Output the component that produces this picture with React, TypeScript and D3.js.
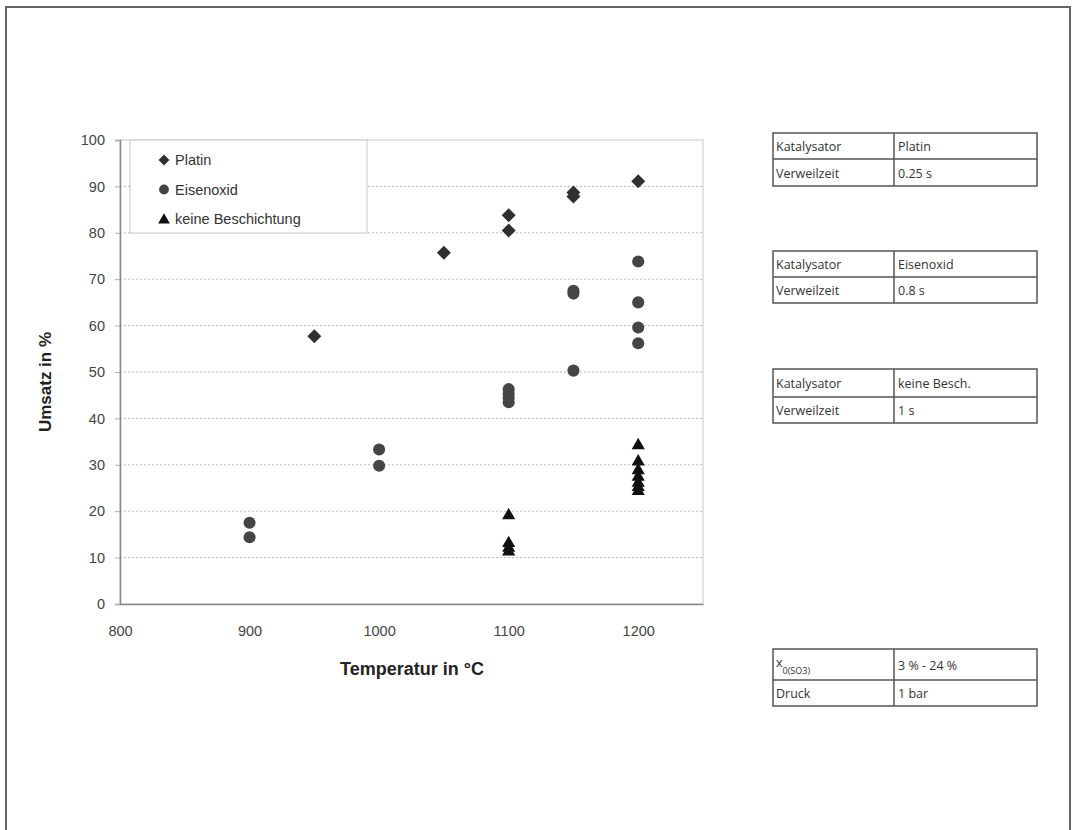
import React, { useRef, useEffect } from 'react';
import * as d3 from 'd3';

// Temperatur (°C) / Umsatz (%) pairs per series
const platinT = [950, 1050, 1100, 1100, 1150, 1150, 1200];
const platinU = [57.7, 75.7, 83.8, 80.5, 88.7, 87.8, 91.1];

const eisenT = [900, 900, 1000, 1000, 1100, 1100, 1100, 1100, 1150, 1150, 1150, 1200, 1200, 1200, 1200];
const eisenU = [17.5, 14.4, 33.3, 29.8, 46.3, 45.3, 44.4, 43.5, 67.5, 66.9, 50.3, 73.8, 65.0, 59.6, 56.2];

const keineT = [1100, 1100, 1100, 1100, 1200, 1200, 1200, 1200, 1200, 1200, 1200];
const keineU = [19.3, 13.3, 12.3, 11.5, 34.4, 30.9, 29.0, 27.6, 26.3, 25.4, 24.5];

const xTicks = [800, 900, 1000, 1100, 1200];
const yTicks = [0, 10, 20, 30, 40, 50, 60, 70, 80, 90, 100];

const legendLabels = ['Platin', 'Eisenoxid', 'keine Beschichtung'];

const tableRows = [
  [['Katalysator', 'Platin'], ['Verweilzeit', '0.25 s']],
  [['Katalysator', 'Eisenoxid'], ['Verweilzeit', '0.8 s']],
  [['Katalysator', 'keine Besch.'], ['Verweilzeit', '1 s']],
  [['x', '3 % - 24 %'], ['Druck', '1 bar']],
];

export default function App() {
  const svgRef = useRef<SVGSVGElement>(null);

  useEffect(() => {
    const svg = d3.select(svgRef.current);
    svg.selectAll('*').remove();

    // outer frame
    svg.append('rect')
      .attr('x', 6).attr('y', 7).attr('width', 1064).attr('height', 840)
      .attr('fill', 'none').attr('stroke', '#666').attr('stroke-width', 2);

    const left = 120, right = 703, top = 140, bottom = 604;
    const x = d3.scaleLinear().domain([800, 1250]).range([left, right]);
    const y = d3.scaleLinear().domain([0, 100]).range([bottom, top]);

    // plot box
    svg.append('rect')
      .attr('x', left).attr('y', top).attr('width', right - left).attr('height', bottom - top)
      .attr('fill', 'white').attr('stroke', '#c8c8c8');

    // gridlines
    svg.append('g')
      .selectAll('line')
      .data(yTicks.filter(d => d > 0 && d < 100))
      .enter()
      .append('line')
      .attr('x1', left).attr('x2', right)
      .attr('y1', d => y(d)).attr('y2', d => y(d))
      .attr('stroke', '#b8b8b8')
      .attr('stroke-dasharray', '2,2');

    // axes
    const yAxis = svg.append('g')
      .attr('transform', `translate(${left},0)`)
      .call(d3.axisLeft(y).tickValues(yTicks).tickSize(5).tickPadding(10));
    const xAxis = svg.append('g')
      .attr('transform', `translate(0,${bottom})`)
      .call(d3.axisBottom(x).tickValues(xTicks).tickFormat(d3.format('d')).tickSize(0).tickPadding(22));
    [yAxis, xAxis].forEach(g => {
      g.select('.domain').attr('stroke', '#888').attr('stroke-width', 1.5);
      g.selectAll('.tick line').attr('stroke', '#aaa');
      g.selectAll('text')
        .attr('font-family', 'Arial, Liberation Sans, sans-serif')
        .attr('font-size', 14.5)
        .attr('fill', '#444');
    });

    svg.append('text')
      .attr('x', 412).attr('y', 675)
      .attr('text-anchor', 'middle')
      .attr('font-family', 'Arial, Liberation Sans, sans-serif')
      .attr('font-weight', 'bold').attr('font-size', 18)
      .attr('fill', '#222')
      .text('Temperatur in °C');

    svg.append('text')
      .attr('transform', `translate(51,${(top + bottom) / 2 + 10}) rotate(-90)`)
      .attr('text-anchor', 'middle')
      .attr('font-family', 'Arial, Liberation Sans, sans-serif')
      .attr('font-weight', 'bold').attr('font-size', 17)
      .attr('fill', '#222')
      .text('Umsatz in %');

    const diamond = d3.symbol().type(d3.symbolDiamond2).size(125);
    const circle = d3.symbol().type(d3.symbolCircle).size(115);
    const triangle = d3.symbol().type(d3.symbolTriangle).size(75);

    const marks = svg.append('g');
    marks.selectAll('.pl')
      .data(platinT.map((t, i) => [t, platinU[i]]))
      .enter().append('path')
      .attr('d', diamond)
      .attr('transform', d => `translate(${x(d[0])},${y(d[1])})`)
      .attr('fill', '#303030');
    marks.selectAll('.ei')
      .data(eisenT.map((t, i) => [t, eisenU[i]]))
      .enter().append('path')
      .attr('d', circle)
      .attr('transform', d => `translate(${x(d[0])},${y(d[1])})`)
      .attr('fill', '#454545');
    marks.selectAll('.ke')
      .data(keineT.map((t, i) => [t, keineU[i]]))
      .enter().append('path')
      .attr('d', triangle)
      .attr('transform', d => `translate(${x(d[0])},${y(d[1]) + 1})`)
      .attr('fill', '#111');

    // legend
    const lg = svg.append('g');
    lg.append('rect')
      .attr('x', 130).attr('y', top).attr('width', 237).attr('height', 93)
      .attr('fill', 'white').attr('stroke', '#c8c8c8');
    const shapes = [
      { s: d3.symbol().type(d3.symbolDiamond2).size(75), c: '#303030' },
      { s: d3.symbol().type(d3.symbolCircle).size(75), c: '#454545' },
      { s: d3.symbol().type(d3.symbolTriangle).size(60), c: '#111' },
    ];
    legendLabels.forEach((label, i) => {
      const cy = 160 + i * 29.5;
      lg.append('path')
        .attr('d', shapes[i].s)
        .attr('transform', `translate(164,${cy + (i === 2 ? 1 : 0)})`)
        .attr('fill', shapes[i].c);
      lg.append('text')
        .attr('x', 175).attr('y', cy + 5)
        .attr('font-family', 'Arial, Liberation Sans, sans-serif')
        .attr('font-size', 14.5)
        .attr('fill', '#333')
        .text(label);
    });

    // parameter tables
    const tableTops = [133, 251, 369, 649];
    const tableRowH = [[26, 27], [26, 26], [28, 26], [31, 26]];
    const tx = 773, tw = 264, col = 894;
    tableRows.forEach((rows, ti) => {
      const g = svg.append('g');
      const y0 = tableTops[ti];
      const h = tableRowH[ti][0] + tableRowH[ti][1];
      g.append('rect')
        .attr('x', tx).attr('y', y0).attr('width', tw).attr('height', h)
        .attr('fill', 'white').attr('stroke', '#555').attr('stroke-width', 1.5);
      g.append('line')
        .attr('x1', tx).attr('x2', tx + tw)
        .attr('y1', y0 + tableRowH[ti][0]).attr('y2', y0 + tableRowH[ti][0])
        .attr('stroke', '#555').attr('stroke-width', 1.5);
      g.append('line')
        .attr('x1', col).attr('x2', col)
        .attr('y1', y0).attr('y2', y0 + h)
        .attr('stroke', '#555').attr('stroke-width', 1.5);
      rows.forEach((r, ri) => {
        const rowTop = y0 + (ri === 0 ? 0 : tableRowH[ti][0]);
        const rowH = tableRowH[ti][ri];
        const base = rowTop + rowH / 2 + 5;
        const t = g.append('text')
          .attr('x', tx + 3).attr('y', base)
          .attr('font-family', 'Open Sans, Noto Sans, sans-serif')
          .attr('font-size', 12.5)
          .attr('fill', '#333');
        if (ti === 3 && ri === 0) {
          t.attr('y', base - 3).text(r[0]);
          t.append('tspan').attr('font-size', 9).attr('dy', 7).text('0(SO3)');
        } else {
          t.text(r[0]);
        }
        g.append('text')
          .attr('x', col + 4).attr('y', base)
          .attr('font-family', 'Open Sans, Noto Sans, sans-serif')
          .attr('font-size', 12.5)
          .attr('fill', '#333')
          .text(r[1]);
      });
    });
  }, []);

  return (
    <div style={{ position: 'absolute', left: 0, top: 0, width: 1074, height: 830, background: 'white' }}>
      <svg ref={svgRef} width={1074} height={830} style={{ display: 'block' }} />
    </div>
  );
}
